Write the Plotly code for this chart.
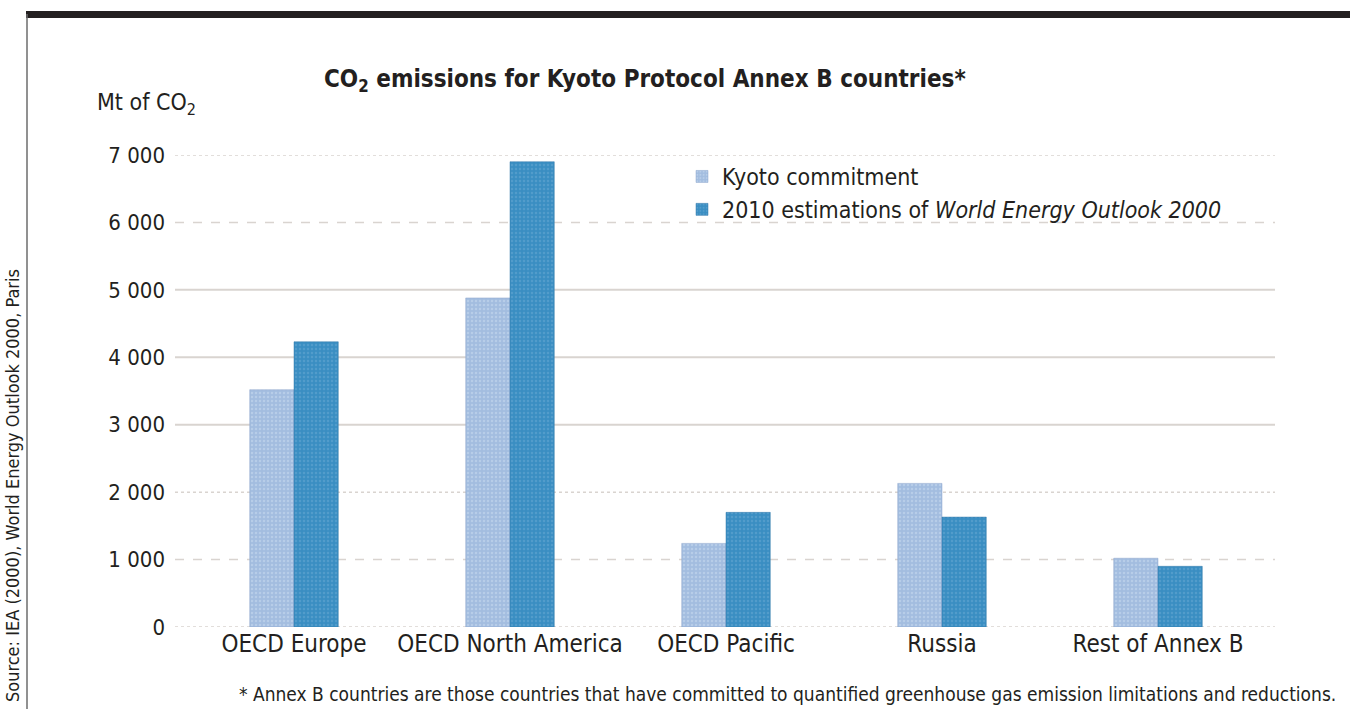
import plotly.graph_objects as go

categories = ["OECD Europe", "OECD North America", "OECD Pacific", "Russia", "Rest of Annex B"]
kyoto = [3520, 4880, 1240, 2130, 1020]
weo2010 = [4230, 6900, 1700, 1630, 900]
tick_vals = [0, 1000, 2000, 3000, 4000, 5000, 6000, 7000]
tick_text = ["0", "1 000", "2 000", "3 000", "4 000", "5 000", "6 000", "7 000"]
grid_dash = ["dot", "dash", "dot", "solid", "solid", "solid", "dash", "dot"]

FONT = "Liberation Sans Narrow, DejaVu Sans Condensed, sans-serif"
W, H = 1350, 709
L, R, T, B = 186, 84, 155, 82

fig = go.Figure()
fig.add_trace(go.Bar(
    x=categories, y=kyoto, name="Kyoto commitment",
    marker=dict(color="#a3bddf", line=dict(color="#8fa6cc", width=0.5),
                pattern=dict(shape=".", fgcolor="#c9dcf0", size=4, solidity=0.3)),
))
fig.add_trace(go.Bar(
    x=categories, y=weo2010, name="2010 estimations of <i>World Energy Outlook 2000</i>",
    marker=dict(color="#3a8ec2", line=dict(color="#3478a8", width=0.5),
                pattern=dict(shape=".", fgcolor="#6aa9d4", size=4, solidity=0.3)),
))

pw = W - L - R
ph = H - T - B
shapes = []
for v, d in zip(tick_vals, grid_dash):
    shapes.append(dict(type="line", xref="paper", yref="y", x0=-11 / pw, x1=1 + 9 / pw,
                       y0=v, y1=v, layer="below",
                       line=dict(color="#d9d4d0", width=2 if d == "solid" else 1.5, dash=d)))
# frame: top black bar and left grey rule
shapes.append(dict(type="rect", xref="paper", yref="paper",
                   x0=(26 - L) / pw, x1=(W - L) / pw,
                   y0=1 + (T - 18) / ph, y1=1 + (T - 11) / ph,
                   fillcolor="#231f20", line=dict(width=0)))
shapes.append(dict(type="line", xref="paper", yref="paper",
                   x0=(27 - L) / pw, x1=(27 - L) / pw,
                   y0=-(B) / ph, y1=1 + (T - 14) / ph,
                   line=dict(color="#6d6d6d", width=1.5)))

annotations = [
    dict(text="<b>CO<sub>2</sub> emissions for Kyoto Protocol Annex B countries*</b>",
         xref="paper", yref="paper", x=(645 - L) / pw, y=1 + (T - 81) / ph,
         showarrow=False, font=dict(size=24, color="#231f20", family=FONT),
         xanchor="center", yanchor="middle"),
    dict(text="Mt of CO<sub>2</sub>", xref="paper", yref="paper",
         x=(95 - L) / pw, y=1 + (T - 104) / ph, showarrow=False,
         font=dict(size=23, color="#231f20", family=FONT), xanchor="left", yanchor="middle"),
    dict(text="Source: IEA (2000), World Energy Outlook 2000, Paris", xref="paper", yref="paper",
         x=(12 - L) / pw, y=-(B) / ph + (709 - 486) / ph, textangle=-90, showarrow=False,
         font=dict(size=18, color="#231f20", family=FONT), xanchor="center", yanchor="middle"),
    dict(text="* Annex B countries are those countries that have committed to quantified greenhouse gas emission limitations and reductions.",
         xref="paper", yref="paper", x=(787 - L) / pw, y=-(694 - (H - B)) / ph,
         showarrow=False, font=dict(size=19, color="#231f20", family=FONT),
         xanchor="center", yanchor="middle"),
]

fig.update_layout(
    width=W, height=H,
    margin=dict(l=L, r=R, t=T, b=B, autoexpand=False),
    paper_bgcolor="white", plot_bgcolor="white",
    font=dict(family=FONT, color="#231f20", size=22),
    barmode="group", bargap=0.59, bargroupgap=0.0,
    showlegend=True,
    legend=dict(x=(682 - L) / pw, y=1 - (155 - T) / ph, xanchor="left", yanchor="top",
                bgcolor="rgba(0,0,0,0)", font=dict(size=23, family=FONT),
                itemwidth=30, tracegroupgap=0),
    shapes=shapes, annotations=annotations,
)
fig.update_xaxes(showgrid=False, showline=False, zeroline=False, ticks="",
                 tickfont=dict(size=24, family=FONT))
fig.update_yaxes(range=[0, 7000], tickvals=tick_vals, ticktext=tick_text, showgrid=False,
                 zeroline=False, showline=False, ticks="", ticklabelstandoff=20,
                 tickfont=dict(size=22, family=FONT))

fig.write_html("out.html", config={"displayModeBar": False},
               post_script="document.body.style.margin='0px';")
